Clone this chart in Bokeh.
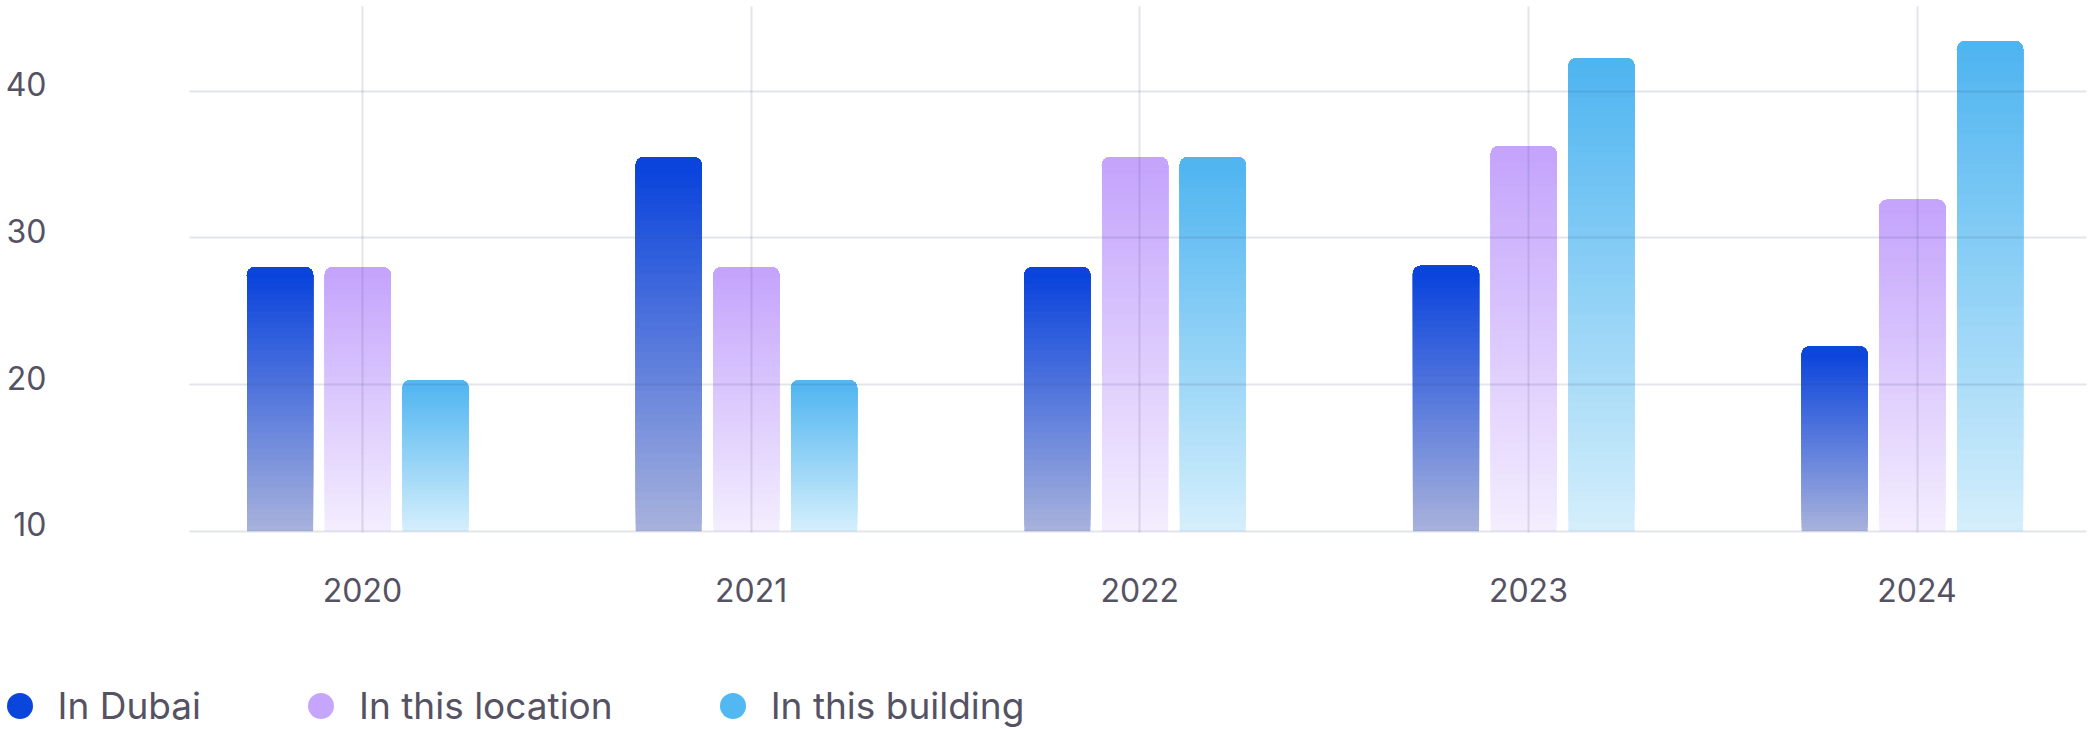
import numpy as np
from bokeh.plotting import figure
from bokeh.models import (ColumnDataSource, FixedTicker, Legend, LegendItem,
                          Range1d, PrintfTickFormatter)
from bokeh.embed import file_html
from bokeh.resources import INLINE

# ---- data ----
years = ["2020", "2021", "2022", "2023", "2024"]
in_dubai = [28.0, 35.5, 28.0, 28.1, 22.6]
in_location = [28.0, 28.0, 35.5, 36.25, 32.6]
in_building = [20.3, 20.3, 35.5, 42.25, 43.4]
series_names = ["In Dubai", "In this location", "In this building"]
y_ticks = [10, 20, 30, 40]
baseline = 10

# ---- style ----
top_colors = ["#0540DC", "#C4A3FC", "#4DB4F0"]
bottom_colors = ["#A8B2DC", "#F3EEFE", "#D5EFFC"]
legend_colors = ["#0A46DC", "#C6A6FC", "#52B8F2"]
FONT = "Inter"
TEXT = "#555264"

PX_PER_UNIT = 14.667
W = 2096
H_MAIN, H_LEG = 660, 69
FRAME_TOP = 6
FRAME_H = 526
y_start = baseline - 1.3 / PX_PER_UNIT
y_end = y_start + FRAME_H / PX_PER_UNIT

p = figure(width=W, height=H_MAIN,
           x_range=Range1d(-0.445, 4.436), y_range=Range1d(y_start, y_end),
           output_backend="svg", toolbar_location=None,
           min_border_left=189, min_border_right=10, min_border_top=FRAME_TOP,
           min_border_bottom=H_MAIN - FRAME_H - FRAME_TOP)
p.outline_line_color = None
p.background_fill_color = "white"
p.border_fill_color = "white"


def mix(c0, c1, t):
    a = np.array([int(c0[i:i + 2], 16) for i in (1, 3, 5)], float)
    b = np.array([int(c1[i:i + 2], 16) for i in (1, 3, 5)], float)
    c = np.round(a + (b - a) * t).astype(int)
    return "#%02x%02x%02x" % tuple(c)


N = 48
offsets = [-0.2, 0.0, 0.2]
shift = -0.012
bar_w = 0.17
cap = 0.6
all_series = [in_dubai, in_location, in_building]
for s, vals in enumerate(all_series):
    d = dict(left=[], right=[], bottom=[], top=[], color=[])
    for i, v in enumerate(vals):
        xc = i + offsets[s] + shift
        for k in range(N):
            b = baseline + (v - baseline) * k / N
            if k > 0 and b > v - cap:
                break
            d["left"].append(xc - bar_w / 2)
            d["right"].append(xc + bar_w / 2)
            d["bottom"].append(b)
            d["top"].append(v)
            d["color"].append(mix(bottom_colors[s], top_colors[s], (k + 0.5) / N))
    p.quad(left="left", right="right", bottom="bottom", top="top",
           fill_color="color", line_color=None, border_radius=(8, 8, 0, 0),
           source=ColumnDataSource(d))

# ---- grid (drawn over the bars, semi transparent) ----
p.xgrid.ticker = FixedTicker(ticks=list(range(len(years))))
p.ygrid.ticker = FixedTicker(ticks=y_ticks)
for g in (p.xgrid, p.ygrid):
    g.grid_line_color = "#3C466E"
    g.grid_line_alpha = 0.14
    g.grid_line_width = 2
    g.level = "annotation"

# ---- axes ----
p.xaxis.ticker = FixedTicker(ticks=list(range(len(years))))
p.xaxis.major_label_overrides = {i: y for i, y in enumerate(years)}
# y labels sit a little above their grid lines, as in the reference
label_lift = 7.0 / PX_PER_UNIT
p.yaxis.ticker = FixedTicker(ticks=[t + label_lift for t in y_ticks])
p.yaxis.formatter = PrintfTickFormatter(format="%d")
for ax in (p.xaxis, p.yaxis):
    ax.axis_line_color = None
    ax.major_tick_line_color = None
    ax.minor_tick_line_color = None
    ax.major_tick_out = 0
    ax.major_tick_in = 0
    ax.major_label_text_font = FONT
    ax.major_label_text_font_size = "32px"
    ax.major_label_text_color = TEXT
p.xaxis.major_label_standoff = 45
p.yaxis.major_label_standoff = 143

# ---- legend (its own strip below the chart) ----
lg = figure(width=W, height=H_LEG, x_range=Range1d(0, 1), y_range=Range1d(0, 1),
            output_backend="svg", toolbar_location=None,
            x_axis_type=None, y_axis_type=None,
            min_border_left=0, min_border_right=0, min_border_top=0, min_border_bottom=0)
lg.outline_line_color = None
lg.grid.visible = False
lg.background_fill_color = "white"
lg.border_fill_color = "white"
items = []
for name, c in zip(series_names, legend_colors):
    r = lg.scatter(x=[np.nan], y=[np.nan], marker="circle", size=26,
                   fill_color=c, line_color=None)
    items.append(LegendItem(label=name, renderers=[r]))
legend = Legend(items=items, orientation="horizontal", location=(-13.5, -9),
                glyph_width=65, glyph_height=65, label_standoff=6, spacing=87,
                padding=0, margin=0, border_line_color=None, background_fill_alpha=0,
                label_text_font=FONT, label_text_font_size="37px",
                label_text_color=TEXT, label_text_baseline="middle")
lg.add_layout(legend)

open("out.html", "w").write(file_html([p, lg], INLINE))
